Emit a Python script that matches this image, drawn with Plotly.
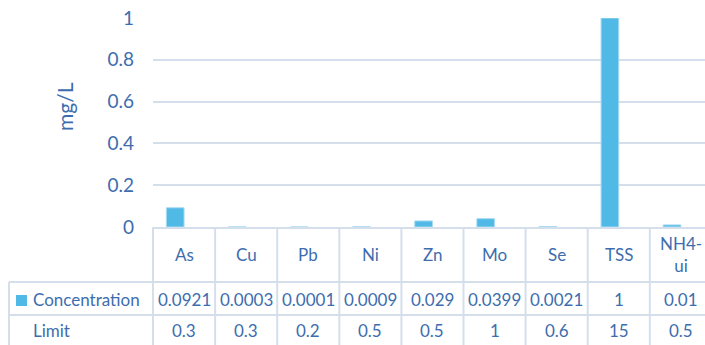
import plotly.graph_objects as go

# Water quality: measured concentration vs. regulatory limit (mg/L)
parameters = ["As", "Cu", "Pb", "Ni", "Zn", "Mo", "Se", "TSS", "NH4-ui"]
concentration = [0.0921, 0.0003, 0.0001, 0.0009, 0.029, 0.0399, 0.0021, 1, 0.01]
limit = [0.3, 0.3, 0.2, 0.5, 0.5, 1, 0.6, 15, 0.5]
conc_labels = ["0.0921", "0.0003", "0.0001", "0.0009", "0.029", "0.0399", "0.0021", "1", "0.01"]
limit_labels = ["0.3", "0.3", "0.2", "0.5", "0.5", "1", "0.6", "15", "0.5"]
header_labels = ["As", "Cu", "Pb", "Ni", "Zn", "Mo", "Se", "TSS", "NH4-<br>ui"]
y_ticks = [0, 0.2, 0.4, 0.6, 0.8, 1]

W, H = 705, 345
ML, MR, MT, MB = 153, 0, 18, 118
PW, PH = W - ML - MR, H - MT - MB
COL_W = 62.1  # pixel width of one category slot
x_range = [-0.5, -0.5 + PW / COL_W]

TEXT = "#3D6DAE"
GRID = "#D5DFEC"
BAR = "#50B9E5"
FONT = "Lato"


def px_x(px):
    return (px - ML) / PW


def px_y(py):
    return (H - MB - py) / PH


def edge_px(b):
    return ML + (b - x_range[0]) * COL_W


fig = go.Figure()
fig.add_trace(go.Bar(
    x=parameters, y=concentration, name="Concentration",
    marker=dict(color=BAR, line=dict(color="#A8DBF2", width=1)),
))
# the limit series shares the category slots but is not painted
fig.add_trace(go.Bar(
    x=parameters, y=limit, name="Limit",
    marker=dict(color="rgba(0,0,0,0)", line=dict(width=0)),
    hoverinfo="skip",
))

shapes = []
ann = []
row_lines = [282, 315]
table_top, table_bot = H - MB, H
# vertical column separators
for b in range(len(parameters)):
    xe = px_x(edge_px(b - 0.5))
    shapes.append(dict(type="line", xref="paper", yref="paper",
                       x0=xe, x1=xe, y0=px_y(table_top), y1=px_y(table_bot),
                       line=dict(color=GRID, width=2)))
# label column left edge
shapes.append(dict(type="line", xref="paper", yref="paper",
                   x0=px_x(9), x1=px_x(9), y0=px_y(row_lines[0]), y1=px_y(table_bot),
                   line=dict(color=GRID, width=2)))
for ry in row_lines:
    shapes.append(dict(type="line", xref="paper", yref="paper",
                       x0=px_x(9), x1=px_x(W), y0=px_y(ry), y1=px_y(ry),
                       line=dict(color=GRID, width=2)))
# legend key for the concentration row
shapes.append(dict(type="rect", xref="paper", yref="paper",
                   x0=px_x(16), x1=px_x(27), y0=px_y(295), y1=px_y(306),
                   fillcolor=BAR, line=dict(width=0)))

hdr_y = px_y(254)
conc_y = px_y(299)
lim_y = px_y(330)
for i, p in enumerate(parameters):
    ann.append(dict(x=p, y=hdr_y, xref="x", yref="paper", text=header_labels[i],
                    showarrow=False, font=dict(size=17, color=TEXT, family=FONT),
                    xanchor="center", yanchor="middle"))
    ann.append(dict(x=p, y=conc_y, xref="x", yref="paper", text=conc_labels[i],
                    showarrow=False, font=dict(size=17, color=TEXT, family=FONT),
                    xanchor="center", yanchor="middle"))
    ann.append(dict(x=p, y=lim_y, xref="x", yref="paper", text=limit_labels[i],
                    showarrow=False, font=dict(size=17, color=TEXT, family=FONT),
                    xanchor="center", yanchor="middle"))
ann.append(dict(x=px_x(31), y=conc_y, xref="paper", yref="paper", text="Concentration",
                showarrow=False, font=dict(size=17, color=TEXT, family=FONT),
                xanchor="left", yanchor="middle"))
ann.append(dict(x=px_x(31), y=lim_y, xref="paper", yref="paper", text="Limit",
                showarrow=False, font=dict(size=17, color=TEXT, family=FONT),
                xanchor="left", yanchor="middle"))
ann.append(dict(x=px_x(64), y=px_y(107), xref="paper", yref="paper", text="mg/L",
                showarrow=False, textangle=-90, font=dict(size=21, color=TEXT, family=FONT),
                xanchor="center", yanchor="middle"))

fig.update_layout(
    width=W, height=H,
    margin=dict(l=ML, r=MR, t=MT, b=MB, pad=0),
    paper_bgcolor="white", plot_bgcolor="white",
    barmode="group", bargap=0.43, bargroupgap=0,
    showlegend=False,
    shapes=shapes, annotations=ann,
    font=dict(family=FONT, color=TEXT),
)
fig.update_xaxes(range=x_range, showticklabels=False, ticks="", showgrid=False,
                 showline=True, linecolor=GRID, linewidth=2, fixedrange=True)
fig.update_yaxes(range=[0, 1], tickvals=y_ticks, showgrid=True, gridcolor=GRID,
                 gridwidth=2, zeroline=False, ticks="", ticklabelstandoff=18,
                 tickfont=dict(size=19, color=TEXT, family=FONT), fixedrange=True)

fig.write_html("out.html")
